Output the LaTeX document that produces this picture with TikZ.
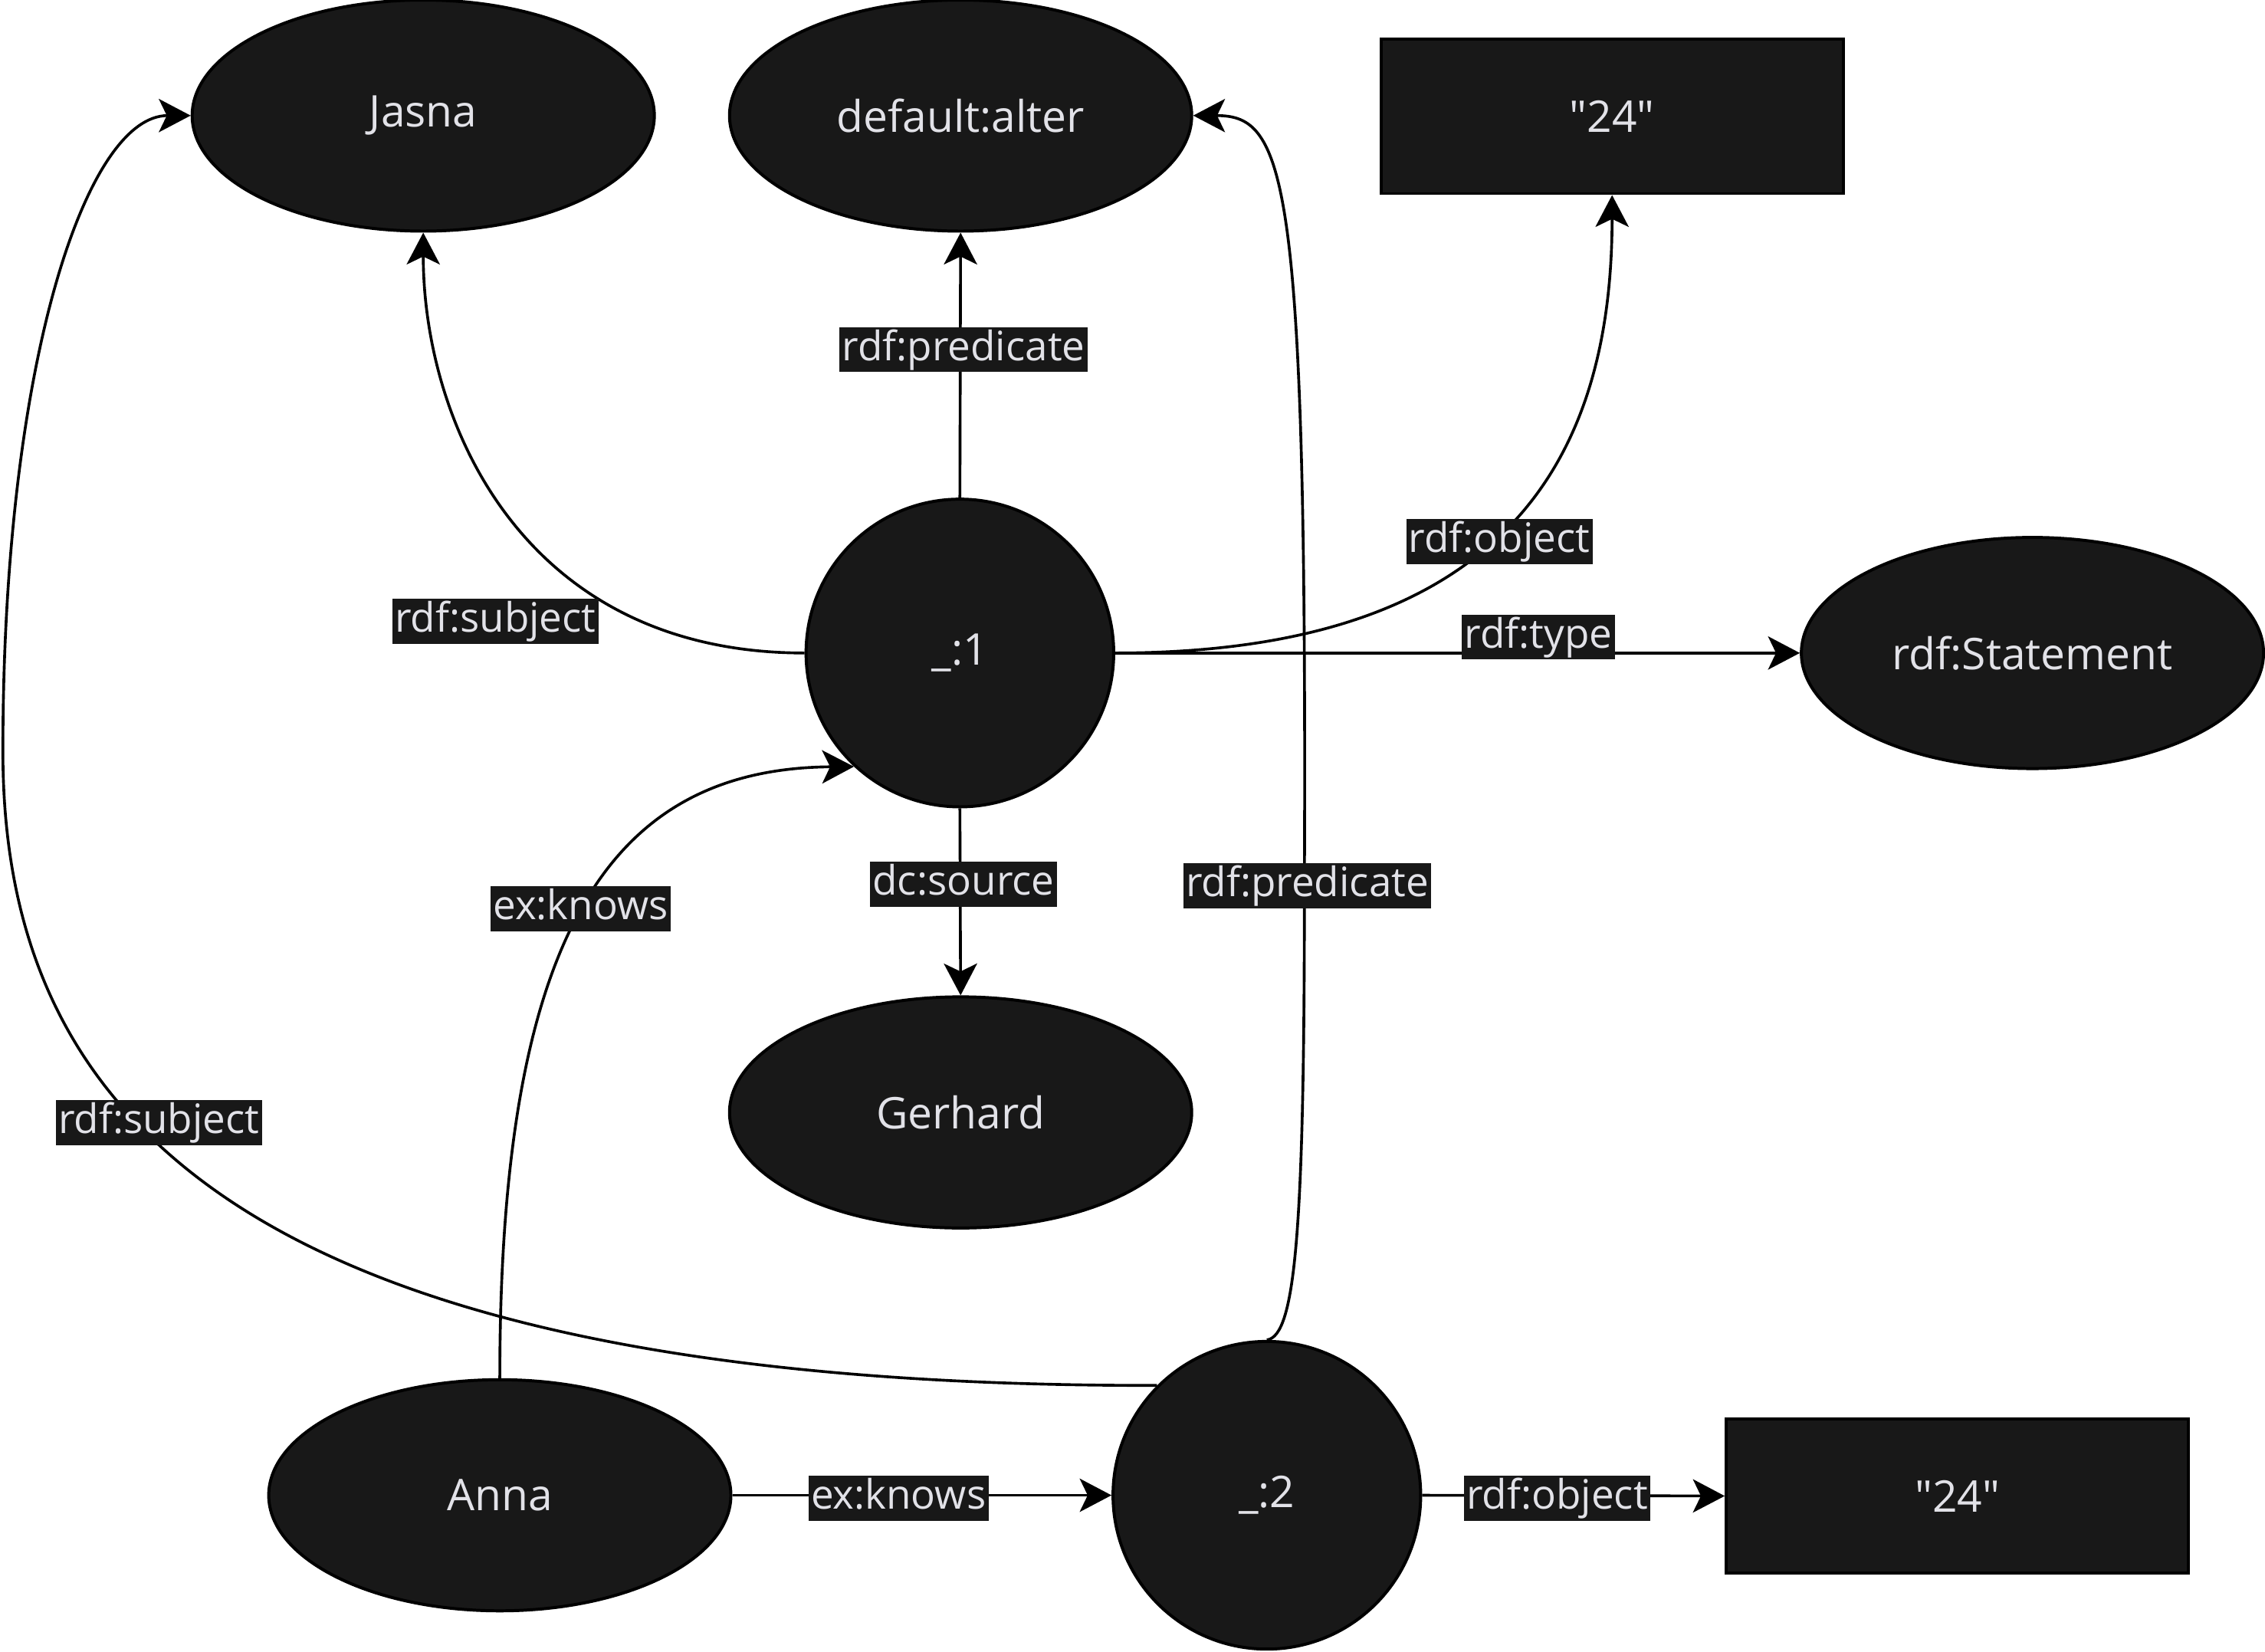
\documentclass[tikz,border=0pt]{standalone}
\usepackage{fontspec}
\setmainfont{Open Sans}
\usetikzlibrary{shapes.geometric,arrows.meta}
\definecolor{nodo}{HTML}{181818}
\definecolor{texto}{HTML}{E2E2E8}
\tikzset{
  recurso/.style={ellipse, draw, line width=1.2pt, fill=nodo, text=texto,
    minimum width=6.4cm, minimum height=3.2cm, inner sep=0pt, font=\fontsize{17.2}{20}\selectfont},
  blanco/.style={circle, draw, line width=1.2pt, fill=nodo, text=texto,
    minimum size=4.26cm, inner sep=0pt, font=\fontsize{17.2}{20}\selectfont},
  literal/.style={rectangle, draw, line width=1.2pt, fill=nodo, text=texto,
    minimum width=6.4cm, minimum height=2.14cm, inner sep=0pt, font=\fontsize{17.2}{20}\selectfont},
  arista/.style={line width=1.1pt, -{Stealth[length=4.4mm,width=4.6mm,inset=1.1mm]}},
  etiq/.style={fill=nodo, text=texto, inner xsep=1pt, inner ysep=0.8pt,
    text height=12.3pt, text depth=3.8pt, font=\fontsize{16}{19}\selectfont}
}

\begin{document}
\begin{tikzpicture}[x=0.02cm, y=-0.02cm]
  \useasboundingbox (0,0) rectangle (1568,1143.5);

  % Nodos
  \node[recurso] (jasna)   at (293,80)    {Jasna};
  \node[recurso] (alter)   at (665,80)    {default:alter};
  \node[literal] (lit1)    at (1116,80.5) {\textquotedbl24\textquotedbl};
  \node[blanco]  (b1)      at (664.5,452) {\_:1};
  \node[recurso] (tipo)    at (1407,452)  {rdf:Statement};
  \node[recurso] (gerhard) at (665,770)   {Gerhard};
  \node[recurso] (anna)    at (346,1035)  {Anna};
  \node[blanco]  (b2)      at (877,1035)  {\_:2};
  \node[literal] (lit2)    at (1355,1035.5) {\textquotedbl24\textquotedbl};

  % Aristas de _:1
  \draw[arista] (b1.north) -- (alter.south) node[etiq] at (667,242) {rdf:predicate};
  \draw[arista] (b1.west) .. controls (360,452) and (293,290) .. (jasna.south)
    node[etiq] at (343,430) {rdf:subject};
  \draw[arista] (b1.east) .. controls (1040,452) and (1116,320) .. (lit1.south)
    node[etiq] at (1038,375) {rdf:object};
  \draw[arista] (b1.east) -- (tipo.west) node[etiq] at (1065,441) {rdf:type};
  \draw[arista] (b1.south) -- (gerhard.north) node[etiq] at (667,612) {dc:source};

  % Aristas de Anna
  \draw[arista] (anna.north) .. controls (346,650) and (420,532) .. (b1.227)
    node[etiq] at (402,629) {ex:knows};
  \draw[arista] (anna.east) -- (b2.west) node[etiq] at (622,1037) {ex:knows};

  % Aristas de _:2
  \draw[arista] (b2.east) -- (lit2.west) node[etiq] at (1078,1037) {rdf:object};
  \draw[arista] (b2.135) .. controls (150,960) and (2,760) .. (2,520)
    .. controls (2,250) and (60,80) .. (jasna.west)
    node[etiq] at (110,777) {rdf:subject};
  \draw[arista] (b2.north) .. controls (897,925) and (903,850) .. (903,613)
    .. controls (905,120) and (890,80) .. (alter.east)
    node[etiq] at (905,613) {rdf:predicate};
\end{tikzpicture}
\end{document}
